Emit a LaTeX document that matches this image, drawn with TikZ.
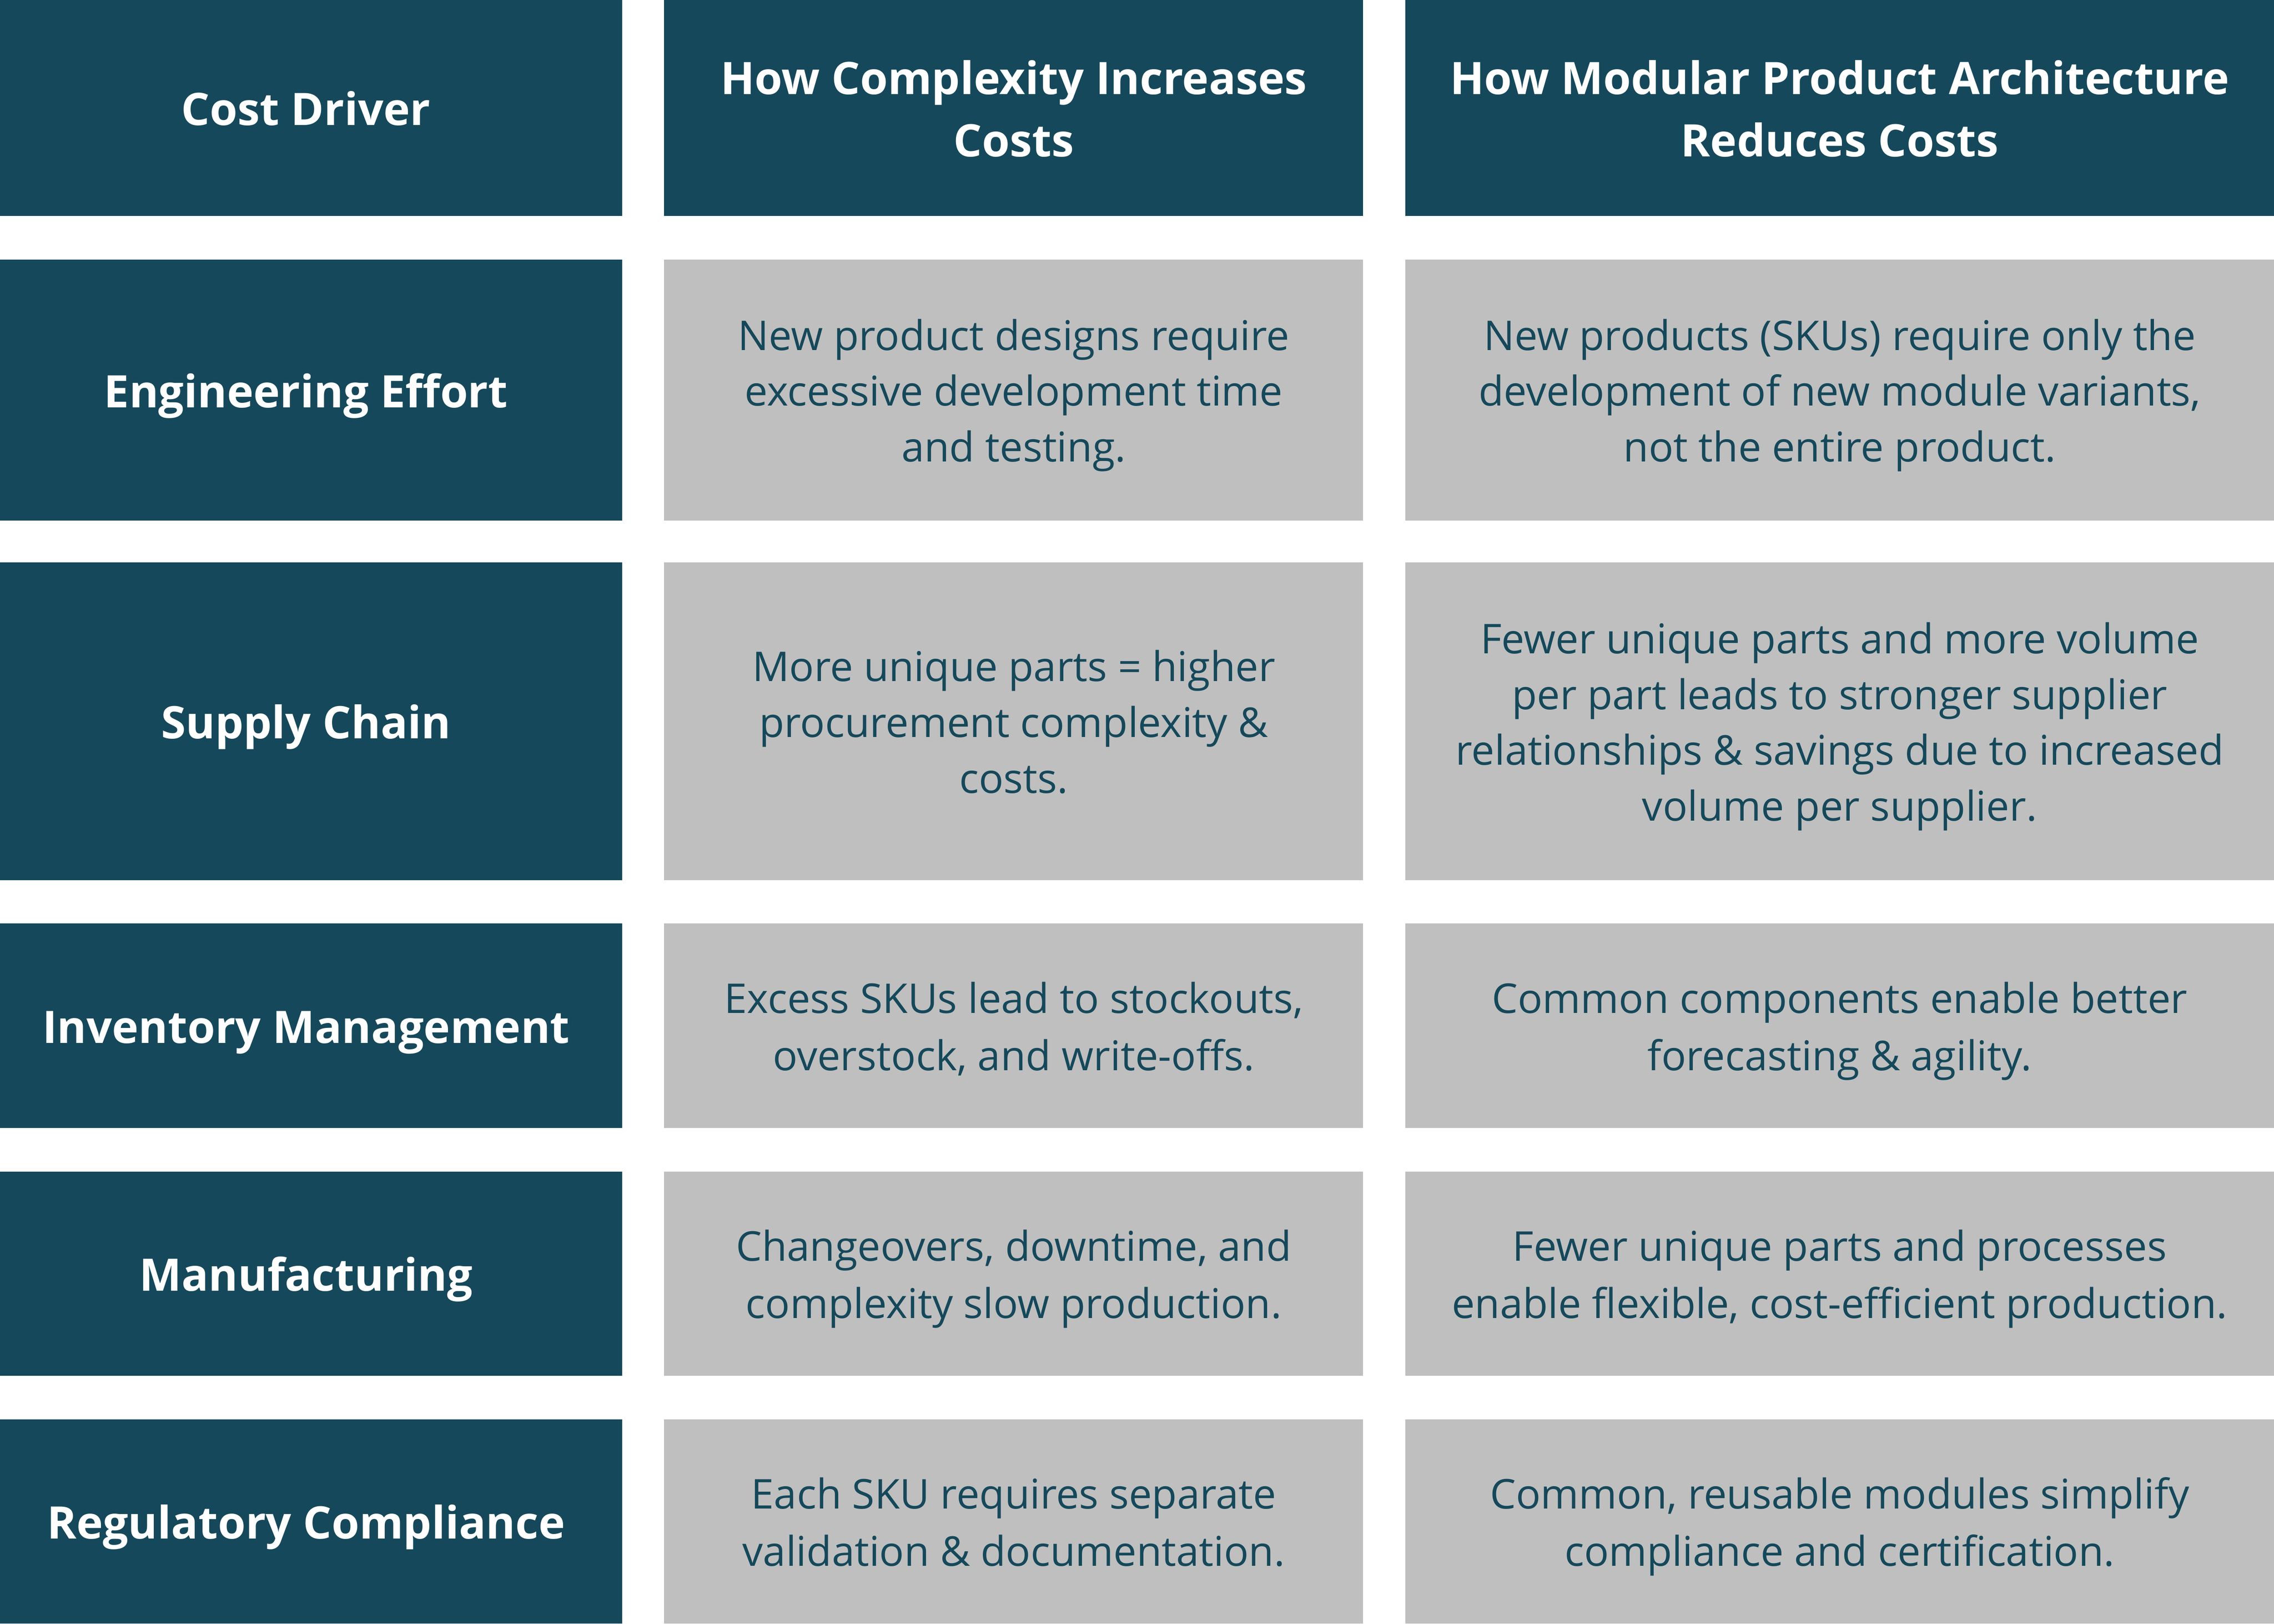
\documentclass[tikz,border=0pt]{standalone}
\usepackage{fontspec}
\setmainfont{Open Sans}
\definecolor{teal}{HTML}{15485A}
\definecolor{cellgray}{HTML}{BFBFBF}
\newcommand{\linestrut}{\rule[-0.293em]{0pt}{1.362em}}
\begin{document}
\begin{tikzpicture}[x=1pt, y=-1pt]
        \tikzstyle{hd}=[rectangle, fill=teal, text=white, inner sep=0pt, align=flush center,
            font=\fontsize{30.9}{42}\selectfont\bfseries,
            execute at begin node=\linestrut, execute at end node=\linestrut]
        \tikzstyle{cell}=[rectangle, fill=cellgray, text=teal, inner sep=0pt, align=flush center,
            font=\fontsize{28.3}{38.5}\selectfont,
            execute at begin node=\linestrut, execute at end node=\linestrut]
        \tikzstyle{wa}=[minimum width=436pt, text width=420pt]
        \tikzstyle{wb}=[minimum width=482pt, text width=470pt]
        \tikzstyle{wc}=[minimum width=599pt, text width=585pt]

        \useasboundingbox (0,0) rectangle (1568,1120);

        % Header row
        \node[hd, wa, minimum height=149pt] (h1) at (211,74.5) {Cost Driver};
        \node[hd, wb, minimum height=149pt] (h2) at (699,74.5) {How Complexity Increases\\Costs};
        \node[hd, wc, minimum height=149pt] (h3) at (1268.5,74.5) {How Modular Product Architecture\\Reduces Costs};

        % Cost drivers
        \node[hd, wa, minimum height=180pt] (d1) at (211,269) {Engineering Effort};
        \node[hd, wa, minimum height=219pt] (d2) at (211,497.5) {Supply Chain};
        \node[hd, wa, minimum height=141pt] (d3) at (211,707.5) {Inventory Management};
        \node[hd, wa, minimum height=141pt] (d4) at (211,878.5) {Manufacturing};
        \node[hd, wa, minimum height=141pt] (d5) at (211,1049.5) {Regulatory Compliance};

        % How complexity increases costs
        \node[cell, wb, minimum height=180pt] (c1) at (699,269)
            {New product designs require\\excessive development time\\and testing.};
        \node[cell, wb, minimum height=219pt] (c2) at (699,497.5)
            {More unique parts = higher\\procurement complexity \&\\costs.};
        \node[cell, wb, minimum height=141pt] (c3) at (699,707.5)
            {Excess SKUs lead to stockouts,\\overstock, and write-offs.};
        \node[cell, wb, minimum height=141pt] (c4) at (699,878.5)
            {Changeovers, downtime, and\\complexity slow production.};
        \node[cell, wb, minimum height=141pt] (c5) at (699,1049.5)
            {Each SKU requires separate\\validation \& documentation.};

        % How modular architecture reduces costs
        \node[cell, wc, minimum height=180pt] (m1) at (1268.5,269)
            {New products (SKUs) require only the\\development of new module variants,\\not the entire product.};
        \node[cell, wc, minimum height=219pt] (m2) at (1268.5,497.5)
            {Fewer unique parts and more volume\\per part leads to stronger supplier\\relationships \& savings due to increased\\volume per supplier.};
        \node[cell, wc, minimum height=141pt] (m3) at (1268.5,707.5)
            {Common components enable better\\forecasting \& agility.};
        \node[cell, wc, minimum height=141pt] (m4) at (1268.5,878.5)
            {Fewer unique parts and processes\\enable flexible, cost-efficient production.};
        \node[cell, wc, minimum height=141pt] (m5) at (1268.5,1049.5)
            {Common, reusable modules simplify\\compliance and certification.};
\end{tikzpicture}
\end{document}
